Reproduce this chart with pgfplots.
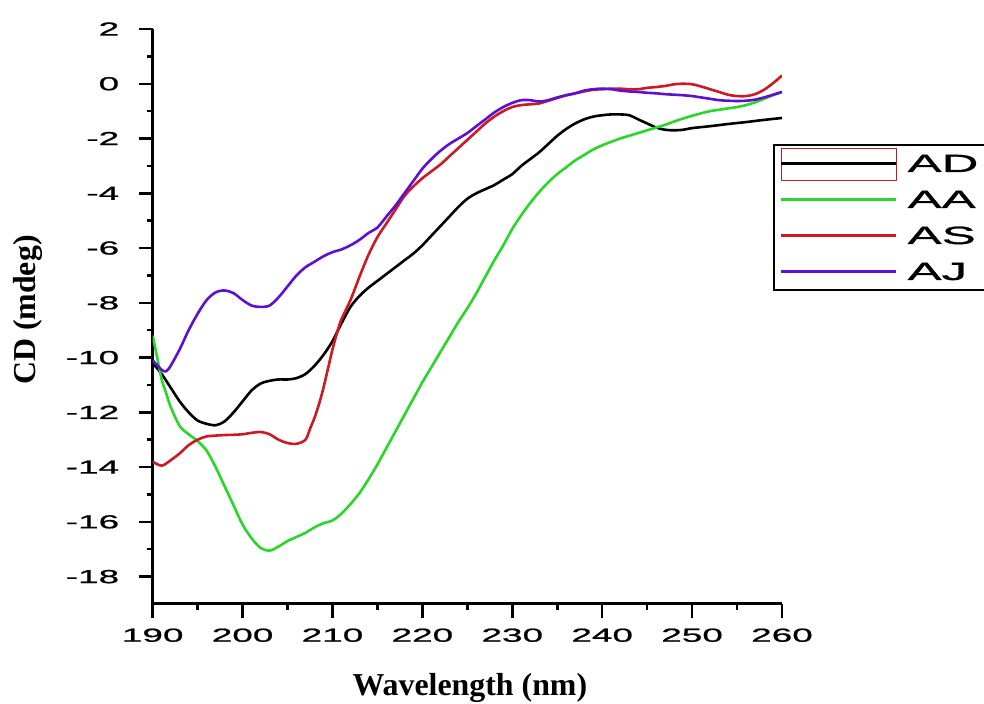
\documentclass[border=0pt]{standalone}
\usepackage{pgfplots}
\pgfplotsset{compat=1.18}
\usepackage{fontspec}
\setmainfont{Liberation Serif}
\newfontfamily\tickfont[FakeStretch=1.95,FakeBold=1]{Liberation Sans}
\newfontfamily\legfont[FakeStretch=2.05,FakeBold=1]{Liberation Sans}
\definecolor{cgreen}{RGB}{40,215,40}
\definecolor{cred}{RGB}{205,25,35}
\definecolor{cpurple}{RGB}{95,15,210}
\pgfplotsset{adimage/.style={legend image code/.code={\draw[overlay, cred, line width=1.5bp] (0bp,-17bp) rectangle (115bp,15bp);
    \draw[##1] (0bp,0bp) -- (115bp,0bp);}}}

\pgfplotstableread{
x y
190 -10.2
191 -10.6
192 -11.1
193 -11.6
194 -12.0
195 -12.3
196 -12.42
197 -12.47
198 -12.33
199 -12.0
200 -11.6
201 -11.2
202 -10.95
203 -10.85
204 -10.8
205 -10.8
206 -10.75
207 -10.6
208 -10.3
209 -9.9
210 -9.4
211 -8.75
212 -8.15
213 -7.75
214 -7.45
215 -7.2
216 -6.95
217 -6.7
218 -6.45
219 -6.2
220 -5.9
221 -5.55
222 -5.2
223 -4.85
224 -4.5
225 -4.2
226 -4.0
227 -3.85
228 -3.7
229 -3.5
230 -3.3
231 -3.0
232 -2.75
233 -2.5
234 -2.2
235 -1.9
236 -1.65
237 -1.45
238 -1.3
239 -1.2
240 -1.15
241 -1.12
242 -1.12
243 -1.15
244 -1.3
245 -1.45
246 -1.6
247 -1.68
248 -1.7
249 -1.68
250 -1.62
252 -1.55
254 -1.47
256 -1.4
258 -1.32
260 -1.25
}\tabAD

\pgfplotstableread{
x y
190 -9.2
190.5 -10.0
191 -10.8
191.5 -11.3
192 -11.8
193 -12.5
194 -12.8
195 -13.05
196 -13.4
197 -14.0
198 -14.7
199 -15.4
200 -16.1
201 -16.6
202 -16.95
203 -17.05
204 -16.9
205 -16.7
206 -16.55
207 -16.4
208 -16.2
209 -16.05
210 -15.95
211 -15.7
212 -15.35
213 -14.95
214 -14.45
215 -13.9
216 -13.3
217 -12.7
218 -12.1
219 -11.5
220 -10.9
221 -10.35
222 -9.8
223 -9.25
224 -8.7
225 -8.2
226 -7.65
227 -7.05
228 -6.45
229 -5.9
230 -5.3
231 -4.8
232 -4.35
233 -3.95
234 -3.6
235 -3.3
236 -3.05
237 -2.8
238 -2.6
239 -2.4
240 -2.25
241 -2.12
242 -2.0
243 -1.9
244 -1.8
245 -1.7
246 -1.6
247 -1.5
248 -1.38
249 -1.27
250 -1.17
251 -1.08
252 -1.0
253 -0.95
254 -0.9
255 -0.85
256 -0.78
257 -0.68
258 -0.55
259 -0.42
260 -0.3
}\tabAA

\pgfplotstableread{
x y
190 -13.8
191 -13.95
192 -13.75
193 -13.5
194 -13.2
195 -13.0
196 -12.88
197 -12.85
198 -12.83
199 -12.82
200 -12.8
201 -12.75
202 -12.72
203 -12.8
204 -13.0
205 -13.12
206 -13.15
207 -13.0
207.5 -12.6
208 -12.2
208.5 -11.7
209 -11.1
209.5 -10.4
210 -9.7
210.5 -9.1
211 -8.6
212 -7.9
213 -7.05
214 -6.25
215 -5.6
216 -5.1
217 -4.6
218 -4.1
219 -3.75
220 -3.45
221 -3.2
222 -2.95
223 -2.65
224 -2.35
225 -2.05
226 -1.75
227 -1.45
228 -1.2
229 -1.0
230 -0.85
231 -0.78
232 -0.75
233 -0.72
234 -0.62
235 -0.52
236 -0.42
237 -0.35
238 -0.28
239 -0.22
240 -0.2
241 -0.18
242 -0.18
243 -0.2
244 -0.2
245 -0.15
246 -0.12
247 -0.08
248 -0.02
249 0.0
250 -0.02
251 -0.1
252 -0.2
253 -0.3
254 -0.4
255 -0.45
256 -0.45
257 -0.38
258 -0.22
259 0.02
260 0.3
}\tabAS

\pgfplotstableread{
x y
190 -10.1
191 -10.45
191.5 -10.5
192 -10.3
193 -9.7
194 -9.0
195 -8.4
196 -7.9
197 -7.62
198 -7.55
199 -7.65
200 -7.9
201 -8.1
202 -8.15
203 -8.1
204 -7.8
205 -7.4
206 -7.0
207 -6.7
208 -6.5
209 -6.3
210 -6.15
211 -6.05
212 -5.9
213 -5.7
214 -5.45
215 -5.25
216 -4.85
217 -4.45
218 -4.0
219 -3.55
220 -3.1
221 -2.75
222 -2.45
223 -2.2
224 -2.0
225 -1.8
226 -1.55
227 -1.3
228 -1.05
229 -0.85
230 -0.7
231 -0.6
232 -0.6
233 -0.65
234 -0.6
235 -0.5
236 -0.42
237 -0.35
238 -0.25
239 -0.2
240 -0.18
241 -0.2
242 -0.25
243 -0.28
244 -0.3
245 -0.33
246 -0.35
247 -0.38
248 -0.4
249 -0.42
250 -0.45
251 -0.5
252 -0.55
253 -0.6
254 -0.62
255 -0.63
256 -0.62
257 -0.58
258 -0.5
259 -0.4
260 -0.3
}\tabAJ

\begin{document}
\begin{tikzpicture}[x=1bp,y=1bp]
\begin{axis}[
  at={(0,0)}, anchor=south west,
  scale only axis, width=629.3bp, height=575bp,
  xmin=190, xmax=260, ymin=-19, ymax=2,
  axis x line*=bottom, axis y line*=left,
  axis line style={line width=3bp},
  xtick={190,200,...,260}, minor xtick={195,205,...,255},
  ytick={-18,-16,...,2}, minor ytick={-17,-15,...,1},
  tick align=outside,
  major tick length=14bp, minor tick length=6bp,
  every tick/.style={black, line width=2.5bp},
  tick label style={font=\fontsize{19}{19}\selectfont\tickfont},
  /pgf/number format/assume math mode=true,
  xticklabel shift=7bp, yticklabel shift=16bp,
  xlabel={Wavelength (nm)}, ylabel={CD (mdeg)},
  label style={font=\fontsize{32}{32}\selectfont\bfseries},
  xlabel style={at={(axis description cs:0.504,-0.146)}, anchor=center},
  ylabel style={at={(axis description cs:-0.198,0.511)}, anchor=center},
  legend style={at={(rel axis cs:0.9857,0.8)}, anchor=north west,
    draw=black, line width=2bp, fill=white,
    font=\fontsize{25}{25}\selectfont\legfont,
    inner xsep=6bp, inner ysep=8bp,
    nodes={inner sep=2bp, text height=17bp, text depth=0bp},
    row sep=15bp, column sep=8bp},
  legend cell align=left,
  legend image code/.code={\draw[#1] (0bp,0bp) -- (115bp,0bp);},
  every axis plot/.append style={line width=2.6bp, line join=round},
]
\addplot[black, no marks, smooth, adimage] table[x=x,y=y] {\tabAD};
\addlegendentry{AD}
\addplot[cgreen, no marks, smooth] table[x=x,y=y] {\tabAA};
\addlegendentry{AA}
\addplot[cred, no marks, smooth] table[x=x,y=y] {\tabAS};
\addlegendentry{AS}
\addplot[cpurple, no marks, smooth] table[x=x,y=y] {\tabAJ};
\addlegendentry{AJ}
\end{axis}
\pgfresetboundingbox
\useasboundingbox (-152.7,-100) rectangle (831.3,604);
\end{tikzpicture}
\end{document}
